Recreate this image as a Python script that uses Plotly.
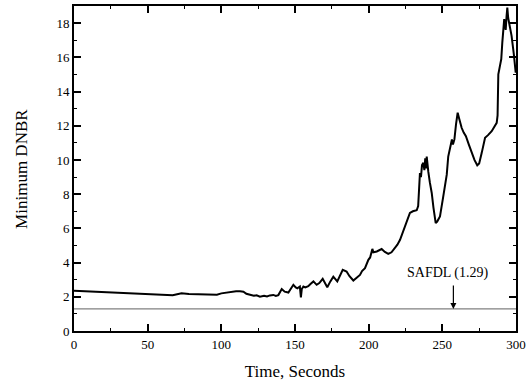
import plotly.graph_objects as go

time_s = [0, 20, 40, 55, 63, 67, 70, 73, 78, 85, 90, 93, 97, 100, 104, 108, 110, 112.7, 115, 117, 119.5,
          122, 124, 126.2, 129, 131, 133, 135.3, 137, 138.7, 141, 143, 145.5, 147, 148.9, 150.5, 151.6,
          153.3, 154, 154.6, 155.7, 157, 159, 160.5, 162.5, 164.7, 166.5, 168.8, 170.3, 171.9, 174, 176,
          178.7, 180.5, 182.4, 185, 187, 189.6, 192, 194.1, 195.5, 197.5, 199.8, 201, 202.5, 203.2, 205.5,
          207, 208.8, 211, 213.3, 215.5, 217.9, 219.5, 221.3, 223, 224.7, 226.5, 228, 230, 232.6, 233.6,
          234.8, 235.5, 236.2, 237.1, 237.8, 238.4, 239.0, 239.4, 239.9, 240.5, 241.5, 242.8, 244, 245.5,
          246.5, 248.4, 250.5, 253, 254, 255.7, 256.5, 257.2, 258.2, 259.3, 260.4, 261.5, 263.1, 264.5,
          266, 268, 269.9, 271.8, 273.7, 275, 276.7, 278, 279, 281, 283.5, 285, 286.9, 287.5, 288, 289.1,
          290, 290.7, 291.4, 292, 292.5, 293, 293.6, 294.1, 294.7, 295.2, 296, 297, 298.5, 299.8]
min_dnbr = [2.36, 2.27, 2.18, 2.12, 2.08, 2.09, 2.15, 2.2, 2.17, 2.15, 2.13, 2.1, 2.12, 2.2, 2.25, 2.3, 2.33, 2.32, 2.3, 2.18, 2.11,
            2.06, 2.09, 2.01, 2.06, 2.02, 2.08, 2.11, 2.05, 2.1, 2.45, 2.3, 2.25, 2.45, 2.7, 2.55, 2.5,
            2.6, 1.97, 2.45, 2.6, 2.55, 2.62, 2.75, 2.9, 2.7, 2.8, 3.05, 2.85, 2.56, 2.9, 3.18,
            2.9, 3.2, 3.58, 3.48, 3.2, 2.95, 3.1, 3.28, 3.5, 3.67, 4.16, 4.3, 4.8, 4.6, 4.65,
            4.72, 4.79, 4.62, 4.51, 4.6, 4.84, 5.05, 5.33, 5.7, 6.1, 6.5, 6.9, 7.0, 7.06, 7.3,
            9.24, 9.0, 9.7, 9.83, 9.4, 10.1, 9.5, 10.2, 9.6, 9.3, 8.7, 8.07, 7.2, 6.31,
            6.4, 6.7, 7.8, 9.14, 10.2, 11.0, 11.2, 10.9, 11.2, 12.1, 12.76, 12.4, 11.88, 11.6,
            11.39, 10.9, 10.41, 10.0, 9.69, 9.8, 10.4, 11.0, 11.3, 11.45, 11.68, 11.9, 12.17, 12.6, 15.0, 15.5,
            15.9, 16.86, 17.5, 18.23, 17.9, 17.6, 18.4, 18.9, 18.3, 18.05, 17.8, 17.25, 16.2, 15.1]

safdl_value = 1.29
x_range = [0, 300]
y_range = [0, 19]
x_ticks = [0, 50, 100, 150, 200, 250, 300]
y_ticks = [0, 2, 4, 6, 8, 10, 12, 14, 16, 18]

font_family = "Liberation Serif"

fig = go.Figure()
fig.add_trace(go.Scatter(x=time_s, y=min_dnbr, mode="lines",
                         line=dict(color="black", width=2), showlegend=False))
fig.add_trace(go.Scatter(x=x_range, y=[safdl_value, safdl_value], mode="lines",
                         line=dict(color="#808080", width=1.2), showlegend=False))

fig.add_annotation(x=257.5, y=safdl_value, xref="x", yref="y", text="",
                   showarrow=True, arrowhead=2, arrowsize=1, arrowwidth=1.2, arrowcolor="black",
                   ax=0, ay=-25, standoff=0)
fig.add_annotation(x=257.5, y=safdl_value, xref="x", yref="y", text="SAFDL (1.29)",
                   showarrow=False, xshift=-6, yshift=36,
                   font=dict(family=font_family, size=14, color="black"))
fig.add_annotation(x=-0.119, y=0.5, xref="paper", yref="paper", text="Minimum DNBR",
                   showarrow=False, textangle=-90, xanchor="center", yanchor="middle",
                   font=dict(family=font_family, size=17, color="black"))

axis_common = dict(showline=True, linecolor="black", linewidth=2, mirror="allticks",
                   ticks="inside", ticklen=7, tickwidth=1.5, tickcolor="black",
                   showgrid=False, zeroline=False, automargin=False,
                   tickfont=dict(family=font_family, size=13, color="black"))

fig.update_xaxes(range=x_range, tickvals=x_ticks,
                 minor=dict(ticks="inside", ticklen=3, tickwidth=1, tickcolor="black", dtick=25, tick0=0),
                 title=dict(text="Time, Seconds", font=dict(family=font_family, size=17, color="black")),
                 **axis_common)
fig.update_yaxes(range=y_range, tickvals=y_ticks,
                 minor=dict(ticks="inside", ticklen=3, tickwidth=1, tickcolor="black", dtick=1, tick0=0),
                 **axis_common)

fig.update_layout(width=529, height=383, margin=dict(l=74, r=13, t=6, b=52, autoexpand=False),
                  plot_bgcolor="white", paper_bgcolor="white",
                  font=dict(family=font_family, color="black"))

fig.write_html("out.html", config={"displayModeBar": False},
               post_script="document.body.style.margin='0';")
